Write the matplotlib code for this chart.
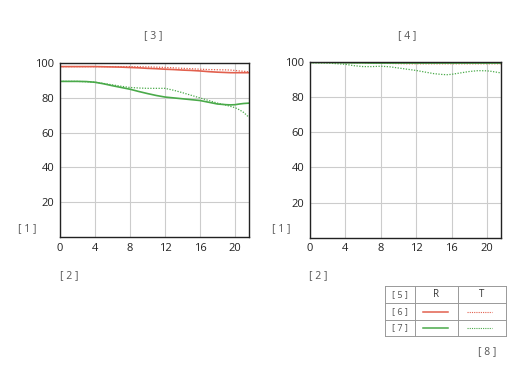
import matplotlib
matplotlib.use("Agg")
import matplotlib.pyplot as plt

plt.rcParams['font.family'] = ['Open Sans', 'DejaVu Sans']

# left chart
x_left = [0, 1, 2, 3, 4, 5, 6, 7, 8, 9, 10, 11, 12, 13, 14, 15, 16, 17, 18, 19, 19.5, 20, 20.5, 21, 21.6]
red_r_left = [98, 98, 98, 98, 98, 97.9, 97.8, 97.7, 97.5, 97.3, 97, 96.8, 96.5, 96.3, 96, 95.8, 95.5, 95.1, 94.8, 94.6, 94.5, 94.5, 94.5, 94.5, 94.5]
red_t_left = [98, 98, 98, 98, 98, 98, 98, 98, 98, 97.9, 97.8, 97.7, 97.5, 97.3, 97, 96.8, 96.5, 96.3, 96.2, 96.1, 96, 95.8, 95.5, 95.3, 95]
green_r_left = [89.5, 89.5, 89.5, 89.4, 89, 88.1, 87, 86, 85, 83.7, 82.5, 81.4, 80.5, 80, 79.5, 79, 78.5, 77.5, 76.5, 76.1, 76, 76.1, 76.5, 76.8, 77]
green_t_left = [89.5, 89.5, 89.5, 89.3, 89, 88.3, 87.5, 86.7, 86, 85.7, 85.5, 85.5, 85.5, 84.4, 83, 81.5, 80, 78.5, 77, 75.8, 75.1, 74.4, 73.2, 71.6, 68.8]

# right chart
x_right = [0, 2, 4, 5, 6, 7, 8, 9, 10, 11, 12, 13, 14, 15, 15.5, 16, 17, 18, 19, 20, 20.5, 21, 21.6]
red_r_right = [99.7] * 23
red_t_right = [99.5, 99.5, 99.5, 99.4, 99.3, 99.2, 99.1, 99, 98.9, 98.8, 98.8, 98.8, 98.8, 98.8, 98.8, 98.8, 98.8, 98.8, 98.8, 98.8, 98.8, 98.8, 98.8]
green_r_right = [99.5, 99.5, 99.4, 99.3, 99.3, 99.2, 99.2, 99.2, 99.2, 99.2, 99.2, 99.2, 99.2, 99.2, 99.2, 99.2, 99.2, 99.2, 99.2, 99.2, 99.2, 99.2, 99.2]
green_t_right = [99.5, 99.2, 98.5, 97.7, 97.2, 97.2, 97.4, 97.1, 96.4, 95.7, 95, 94.1, 93.2, 92.7, 92.6, 92.8, 93.6, 94.4, 94.9, 94.8, 94.5, 94.1, 93.6]

x_ticks = [0, 4, 8, 12, 16, 20]
y_ticks = [20, 40, 60, 80, 100]

RED = '#e2604e'
GREEN = '#4aaa4a'
GRID = '#cccccc'
TXT = '#555555'

fig = plt.figure(figsize=(5.28, 3.67), dpi=100)

def panel(pos, xs, rr, rt, gr, gt):
    ax = fig.add_axes(pos)
    ax.plot(xs, gt, color=GREEN, lw=0.9, ls=(0, (1, 1.2)))
    ax.plot(xs, rt, color=RED, lw=0.9, ls=(0, (1, 1.2)))
    ax.plot(xs, gr, color=GREEN, lw=1.2)
    ax.plot(xs, rr, color=RED, lw=1.2)
    ax.set_xlim(0, 21.6)
    ax.set_ylim(0, 100)
    ax.set_xticks(x_ticks)
    ax.set_yticks(y_ticks)
    ax.grid(True, color=GRID, lw=0.8)
    ax.set_axisbelow(True)
    ax.tick_params(length=0, labelsize=8, pad=4, labelcolor='#222222')
    for s in ax.spines.values():
        s.set_color('#222222')
        s.set_linewidth(1.0)
    return ax

panel([0.1136, 0.354, 0.358, 0.474], x_left, red_r_left, red_t_left, green_r_left, green_t_left)
panel([0.587, 0.352, 0.362, 0.480], x_right, red_r_right, red_t_right, green_r_right, green_t_right)

def lab(x, y, s):
    fig.text(x / 528, 1 - y / 367, s, ha='center', va='center', fontsize=7.5, color=TXT)

lab(153, 36, '[ 3 ]')
lab(407, 36, '[ 4 ]')
lab(27, 229, '[ 1 ]')
lab(281, 229, '[ 1 ]')
lab(69, 276, '[ 2 ]')
lab(318, 276, '[ 2 ]')
lab(487, 352, '[ 8 ]')

# legend table
tab = fig.add_axes([385 / 528, 1 - 336 / 367, 121 / 528, 50 / 367])
tab.set_xlim(0, 121)
tab.set_ylim(50, 0)
tab.axis('off')
BORDER = '#999999'
for yy in [0, 17, 34, 50]:
    tab.plot([0, 121], [yy, yy], color=BORDER, lw=0.7, clip_on=False)
for xx in [0, 30, 73, 121]:
    tab.plot([xx, xx], [0, 50], color=BORDER, lw=0.7, clip_on=False)
tab.text(15, 8.5, '[ 5 ]', ha='center', va='center', fontsize=6.5, color=TXT)
tab.text(51.5, 8.5, 'R', ha='center', va='center', fontsize=7, color='#333333')
tab.text(97, 8.5, 'T', ha='center', va='center', fontsize=7, color='#333333')
tab.text(15, 25.5, '[ 6 ]', ha='center', va='center', fontsize=6.5, color=TXT)
tab.text(15, 42, '[ 7 ]', ha='center', va='center', fontsize=6.5, color=TXT)
tab.plot([38, 63], [25.5, 25.5], color=RED, lw=1.1)
tab.plot([82, 107], [25.5, 25.5], color=RED, lw=0.8, ls=(0, (1, 1)))
tab.plot([38, 63], [42, 42], color=GREEN, lw=1.1)
tab.plot([82, 107], [42, 42], color=GREEN, lw=0.8, ls=(0, (1, 1)))

fig.savefig('out.png', dpi=100)
